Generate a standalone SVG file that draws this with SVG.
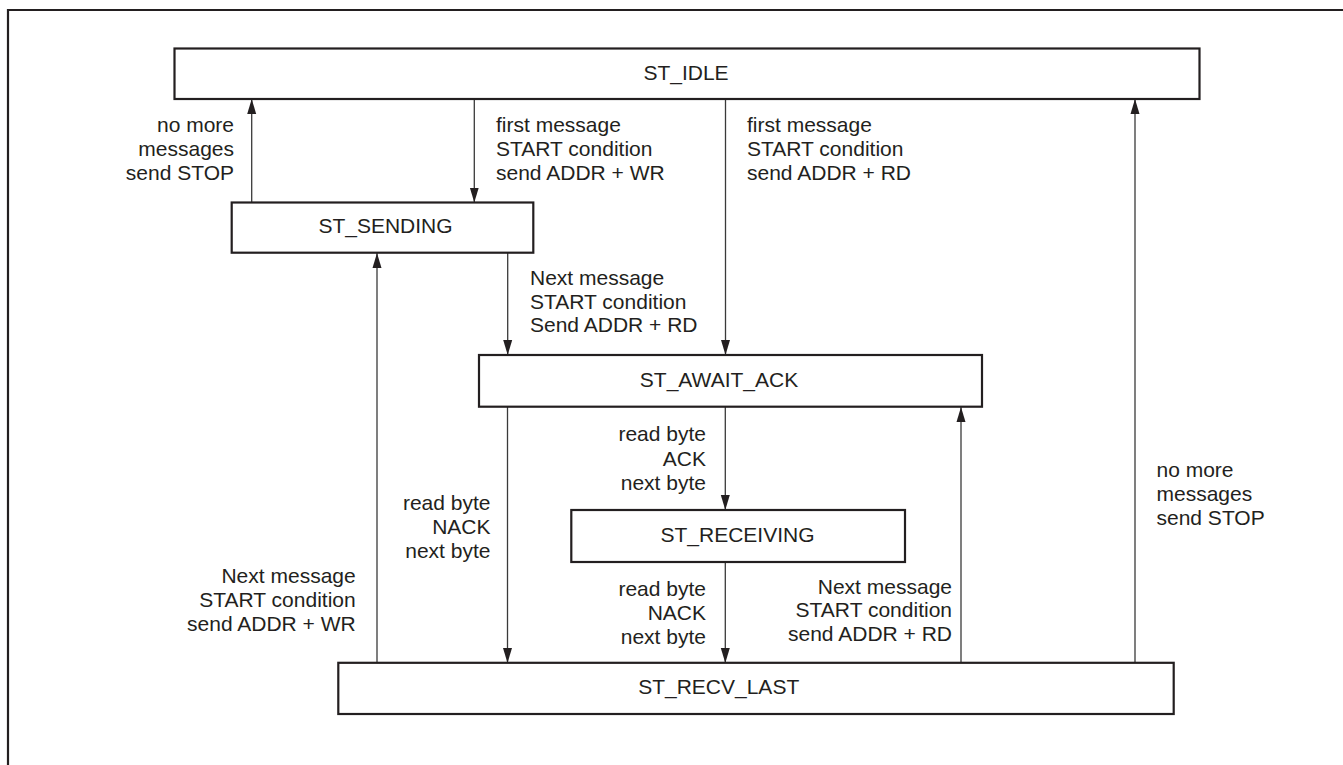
<svg xmlns="http://www.w3.org/2000/svg" width="1343" height="765" viewBox="0 0 1343 765">
<style>
.box{fill:#fff;stroke:#231f20;stroke-width:2.2}
.frame{fill:none;stroke:#231f20;stroke-width:2.2}
.c{fill:none;stroke:#3a3a3a;stroke-width:1.3;marker-end:url(#ah)}
text{font-family:"Liberation Sans",Arial,sans-serif;font-size:21px;fill:#231f20}
.m{text-anchor:middle}
.e{text-anchor:end}
</style>
<defs>
<marker id="ah" markerUnits="userSpaceOnUse" markerWidth="15" markerHeight="10" viewBox="0 0 15 10" refX="15" refY="5" orient="auto">
<path d="M0,0.5 L15,5 L0,9.5 z" fill="#231f20"/>
</marker>
</defs>
<rect width="1343" height="765" fill="#fff"/>
<path class="frame" d="M8,765 V10 H1343"/>
<g id="connectors">
<line class="c" x1="251.7" y1="202.5" x2="251.7" y2="99"/>
<line class="c" x1="474.3" y1="99" x2="474.3" y2="202.5"/>
<line class="c" x1="725.5" y1="99" x2="725.5" y2="355"/>
<line class="c" x1="1135" y1="663" x2="1135" y2="99"/>
<line class="c" x1="377" y1="663" x2="377" y2="253"/>
<line class="c" x1="507.7" y1="253" x2="507.7" y2="355"/>
<line class="c" x1="507.5" y1="407" x2="507.5" y2="663"/>
<line class="c" x1="725.3" y1="407" x2="725.3" y2="510"/>
<line class="c" x1="725.3" y1="562" x2="725.3" y2="663"/>
<line class="c" x1="961" y1="663" x2="961" y2="407"/>
</g>
<g id="labels">
<text class="e" x="234" y="132">no more</text>
<text class="e" x="234" y="156">messages</text>
<text class="e" x="234" y="180">send STOP</text>
<text x="496" y="132">first message</text>
<text x="496" y="156">START condition</text>
<text x="496" y="180">send ADDR + WR</text>
<text x="747" y="132">first message</text>
<text x="747" y="156">START condition</text>
<text x="747" y="180">send ADDR + RD</text>
<text x="530" y="285">Next message</text>
<text x="530" y="308.5">START condition</text>
<text x="530" y="332">Send ADDR + RD</text>
<text class="e" x="706" y="441">read byte</text>
<text class="e" x="706" y="465.5">ACK</text>
<text class="e" x="706" y="489.7">next byte</text>
<text class="e" x="490.5" y="510">read byte</text>
<text class="e" x="490.5" y="534">NACK</text>
<text class="e" x="490.5" y="558">next byte</text>
<text class="e" x="706" y="596">read byte</text>
<text class="e" x="706" y="620">NACK</text>
<text class="e" x="706" y="644">next byte</text>
<text class="e" x="952" y="593.5">Next message</text>
<text class="e" x="952" y="617">START condition</text>
<text class="e" x="952" y="641">send ADDR + RD</text>
<text class="e" x="355.7" y="583">Next message</text>
<text class="e" x="355.7" y="607">START condition</text>
<text class="e" x="355.7" y="631">send ADDR + WR</text>
<text x="1156.5" y="477">no more</text>
<text x="1156.5" y="501">messages</text>
<text x="1156.5" y="524.5">send STOP</text>
</g>
<g id="st_idle">
<rect class="box" x="174.5" y="48.5" width="1025" height="50.5"/>
<text class="m" x="686" y="80">ST_IDLE</text>
</g>
<g id="st_sending">
<rect class="box" x="231.7" y="202.5" width="301.6" height="50.2"/>
<text class="m" x="385.5" y="232.7">ST_SENDING</text>
</g>
<g id="st_await_ack">
<rect class="box" x="479" y="355" width="503" height="51.7"/>
<text class="m" x="719" y="386.7">ST_AWAIT_ACK</text>
</g>
<g id="st_receiving">
<rect class="box" x="571.3" y="510" width="333.7" height="52"/>
<text class="m" x="737.5" y="542">ST_RECEIVING</text>
</g>
<g id="st_recv_last">
<rect class="box" x="338.3" y="662.8" width="835.4" height="51.2"/>
<text class="m" x="718.7" y="694">ST_RECV_LAST</text>
</g>
</svg>
